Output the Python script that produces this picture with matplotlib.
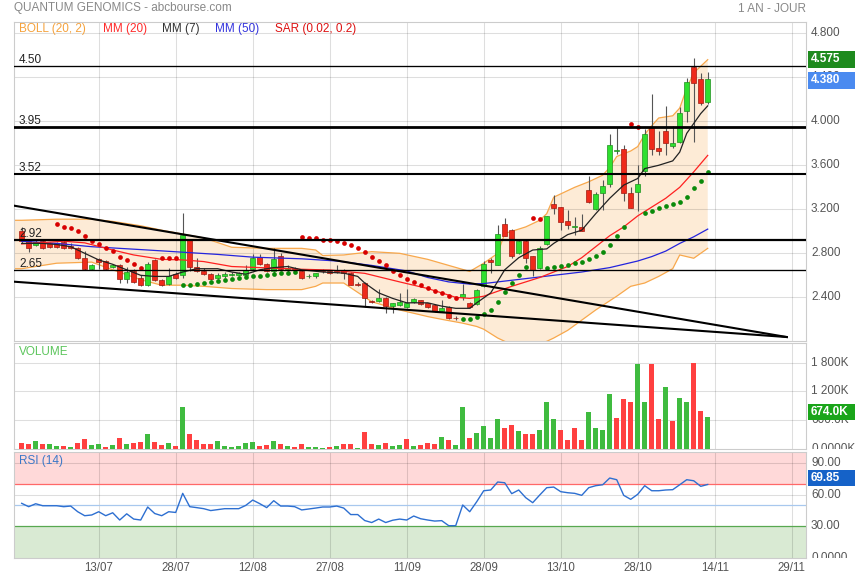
import numpy as np
import matplotlib
matplotlib.use('Agg')
import matplotlib.pyplot as plt
from matplotlib.transforms import blended_transform_factory, Bbox, TransformedBbox
from matplotlib.patches import Rectangle

plt.rcParams['font.family'] = ['Liberation Sans', 'DejaVu Sans']

nan = np.nan

# daily candles (one per trading day)
opens = [
    3.00, 2.91, 2.88, 2.91, 2.89, 2.89, 2.90, 2.87, 2.85, 2.76,
    2.66, 2.75, 2.73, 2.68, 2.69, 2.57, 2.64, 2.58, 2.51, 2.74,
    2.56, 2.52, 2.61, 2.60, 2.92, 2.68, 2.64, 2.61, 2.58, 2.59,
    2.60, 2.60, 2.60, 2.66, 2.77, 2.70, 2.64, 2.78, 2.66, 2.67,
    2.64, 2.59, 2.59, 2.645, 2.64, 2.64, 2.65, 2.62, 2.52, 2.53,
    2.37, 2.37, 2.39, 2.32, 2.33, 2.315, 2.36, 2.375, 2.345, 2.33,
    2.28, 2.31, 2.215, 2.405, 2.35, 2.34, 2.50, 2.735, 2.69, 3.065,
    3.01, 2.80, 2.915, 2.775, 2.664, 2.882, 3.25, 3.218, 3.094, 3.035,
    3.036, 3.376, 3.20, 3.345, 3.43, 3.73, 3.745, 3.345, 3.355, 3.55,
    3.952, 3.76, 3.912, 3.779, 3.809, 4.097, 4.497, 4.385, 4.179,
]
highs = [
    3.04, 2.92, 2.92, 2.93, 2.90, 2.90, 2.92, 2.89, 2.86, 2.82,
    2.70, 2.76, 2.74, 2.70, 2.70, 2.68, 2.66, 2.60, 2.72, 2.75,
    2.57, 2.67, 2.63, 3.17, 2.93, 2.76, 2.67, 2.62, 2.62, 2.63,
    2.63, 2.63, 2.69, 2.79, 2.79, 2.71, 2.85, 2.80, 2.69, 2.68,
    2.65, 2.61, 2.62, 2.66, 2.65, 2.69, 2.66, 2.63, 2.54, 2.54,
    2.38, 2.48, 2.40, 2.35, 2.44, 2.48, 2.39, 2.38, 2.35, 2.34,
    2.38, 2.32, 2.23, 2.52, 2.36, 2.48, 2.73, 2.76, 3.06, 3.12,
    3.02, 2.93, 2.92, 2.78, 2.87, 3.14, 3.33, 3.22, 3.19, 3.13,
    3.16, 3.50, 3.36, 3.47, 3.88, 3.95, 3.785, 3.40, 3.60, 3.93,
    4.245, 3.912, 4.139, 3.958, 4.133, 4.391, 4.575, 4.44, 4.45,
]
lows = [
    2.89, 2.81, 2.87, 2.84, 2.85, 2.85, 2.84, 2.84, 2.75, 2.65,
    2.65, 2.66, 2.65, 2.67, 2.53, 2.53, 2.53, 2.50, 2.50, 2.55,
    2.50, 2.51, 2.57, 2.58, 2.64, 2.63, 2.60, 2.56, 2.57, 2.58,
    2.59, 2.59, 2.59, 2.65, 2.69, 2.63, 2.62, 2.65, 2.63, 2.64,
    2.57, 2.58, 2.58, 2.62, 2.61, 2.62, 2.57, 2.51, 2.50, 2.31,
    2.35, 2.36, 2.26, 2.26, 2.32, 2.30, 2.35, 2.33, 2.30, 2.27,
    2.27, 2.20, 2.19, 2.38, 2.30, 2.33, 2.49, 2.62, 2.69, 2.96,
    2.76, 2.79, 2.71, 2.59, 2.66, 2.88, 3.16, 3.01, 3.02, 2.97,
    3.00, 3.26, 3.19, 3.19, 3.40, 3.70, 3.276, 3.21, 3.18, 3.50,
    3.69, 3.694, 3.694, 3.76, 3.80, 3.997, 3.815, 4.15, 4.16,
]
closes = [
    2.91, 2.85, 2.90, 2.85, 2.86, 2.86, 2.85, 2.85, 2.76, 2.66,
    2.69, 2.72, 2.66, 2.69, 2.57, 2.63, 2.54, 2.51, 2.70, 2.56,
    2.51, 2.59, 2.58, 2.97, 2.68, 2.64, 2.61, 2.57, 2.60, 2.61,
    2.61, 2.62, 2.65, 2.76, 2.70, 2.64, 2.75, 2.66, 2.665, 2.66,
    2.58, 2.595, 2.62, 2.635, 2.62, 2.63, 2.62, 2.51, 2.51, 2.39,
    2.355, 2.39, 2.32, 2.345, 2.355, 2.345, 2.385, 2.335, 2.315, 2.28,
    2.305, 2.21, 2.21, 2.43, 2.31, 2.466, 2.70, 2.725, 2.98, 2.96,
    2.78, 2.915, 2.755, 2.648, 2.845, 3.135, 3.21, 3.088, 3.058, 3.045,
    3.006, 3.27, 3.339, 3.412, 3.785, 3.735, 3.345, 3.215, 3.427, 3.882,
    3.748, 3.733, 3.806, 3.80, 4.073, 4.355, 4.345, 4.164, 4.38,
]

# volume in thousands, with the bar colour (g = up day, r = down day)
volumes = [
    132, 111, 160, 111, 97, 56, 69, 35, 118, 208,
    83, 104, 49, 76, 229, 104, 125, 139, 312, 146,
    90, 125, 56, 881, 305, 180, 111, 111, 160, 69,
    49, 56, 118, 153, 62, 76, 160, 104, 62, 35,
    111, 49, 49, 28, 35, 56, 97, 111, 21, 361,
    97, 83, 118, 56, 83, 208, 56, 76, 118, 111,
    250, 180, 76, 874, 236, 340, 472, 236, 632, 444,
    500, 368, 319, 319, 389, 979, 632, 403, 194, 444,
    194, 777, 444, 403, 1152, 645, 1041, 972, 1777, 985,
    1763, 632, 1284, 583, 1062, 972, 1784, 798, 674,
]
vol_dir = ('rrgrggrgrr' 'ggrgrgrrgr' 'rgrgrrrrgg' 'ggggrrgrgr'
           'rgggrgrrgr' 'rgrggrgrrr' 'grggrggggr' 'rgrrgggrrr'
           'rggggrrrgg' 'rrgrggrrg')

rsi = [
    51.9, 48.7, 51.5, 49.6, 49.6, 49.6, 48.7, 49.3, 43.9, 40.1,
    40.8, 43.9, 40.1, 42.9, 36.0, 41.9, 36.9, 36.0, 48.4, 42.2,
    40.1, 43.9, 43.2, 61.4, 48.7, 47.8, 46.8, 45.0, 45.9, 46.8,
    46.8, 46.8, 49.9, 55.0, 51.6, 47.8, 54.4, 49.3, 49.3, 48.7,
    45.6, 46.5, 47.4, 48.4, 48.4, 49.3, 47.4, 41.2, 41.2, 35.5,
    33.6, 36.9, 33.6, 35.8, 36.9, 36.0, 39.8, 37.2, 36.0, 35.0,
    35.4, 30.6, 30.6, 50.3, 43.9, 53.4, 63.9, 64.6, 72.2, 71.5,
    61.1, 64.6, 57.3, 52.5, 59.8, 66.8, 67.4, 63.0, 62.0, 61.4,
    59.5, 66.8, 68.7, 69.6, 76.0, 74.4, 59.5, 55.7, 60.5, 68.7,
    63.9, 63.9, 64.6, 64.9, 69.6, 74.4, 73.4, 68.1, 69.85,
]

# parabolic SAR (nan where no dot)
sar = ([nan] * 5
       + [3.063, 3.042, 3.027, 3.006, 2.957, 2.915, 2.881, 2.845, 2.821,
          2.769, 2.739, 2.70, 2.669]
       + [nan, nan]
       + [2.754, 2.754, 2.754]
       + [2.51, 2.51, 2.52, 2.527, 2.54, 2.548, 2.557, 2.566, 2.575, 2.587,
          2.592, 2.598, 2.604, 2.612, 2.618, 2.624, 2.633]
       + [2.948, 2.942, 2.936, 2.921, 2.92, 2.915, 2.896, 2.875, 2.851,
          2.815, 2.769, 2.73, 2.693, 2.642, 2.602, 2.563, 2.536, 2.512,
          2.487, 2.46, 2.44, 2.415, 2.39]
       + [2.20, 2.20, 2.22, 2.248, 2.287, 2.36, 2.452, 2.533, 2.603, 2.673]
       + [3.124, 3.112]
       + [2.664, 2.673, 2.685, 2.694, 2.709, 2.724, 2.745, 2.779, 2.815,
          2.876, 2.958, 3.042]
       + [3.976, 3.952]
       + [3.17, 3.188, 3.215, 3.23, 3.252, 3.27, 3.315, 3.391, 3.46, 3.542])

# Bollinger (20, 2)
boll_up_x = [-1, 0, 5, 10, 13, 17, 20, 23, 26, 30, 35, 40, 42, 43, 46, 50, 54,
             58, 61, 64, 66, 68, 69, 72, 74, 75, 76, 79, 81, 83, 84, 85, 87,
             88, 89, 90, 91, 93, 94, 95, 96, 97, 98]
boll_up_y = [3.10, 3.10, 3.11, 3.11, 3.09, 3.05, 3.01, 2.975, 2.94, 2.855,
             2.845, 2.845, 2.83, 2.78, 2.785, 2.815, 2.80, 2.745, 2.69, 2.635,
             2.71, 2.80, 2.98, 3.04, 3.10, 3.16, 3.31, 3.40, 3.45, 3.51,
             3.58, 3.68, 3.73, 3.77, 3.88, 3.96, 4.03, 4.05, 4.12, 4.30,
             4.44, 4.50, 4.56]
boll_lo_x = [-1, 0, 5, 10, 13, 17, 20, 23, 26, 30, 35, 40, 42, 43, 46, 50, 54,
             58, 60, 63, 65, 66, 68, 70, 72, 74, 76, 78, 82, 85, 87, 89, 91,
             93, 94, 96, 98]
boll_lo_y = [2.66, 2.66, 2.71, 2.72, 2.65, 2.56, 2.51, 2.51, 2.50, 2.48,
             2.47, 2.47, 2.50, 2.53, 2.53, 2.36, 2.285, 2.225, 2.20, 2.165,
             2.135, 2.11, 2.03, 1.97, 1.95, 1.97, 2.03, 2.10, 2.285, 2.41,
             2.50, 2.53, 2.59, 2.66, 2.785, 2.755, 2.845]

# moving averages
ma7_x = [0, 3, 5, 7, 9, 11, 13, 15, 17, 19, 21, 23, 25, 28, 30, 32, 34, 36,
         38, 40, 43, 46, 48, 49, 51, 53, 55, 58, 60, 62, 64, 65, 67, 69, 71,
         73, 75, 76, 78, 80, 82, 84, 86, 88, 89, 91, 93, 94, 95, 96, 97, 98]
ma7_y = [2.89, 2.89, 2.88, 2.86, 2.80, 2.74, 2.70, 2.65, 2.60, 2.59,
         2.59, 2.63, 2.66, 2.66, 2.63, 2.61, 2.65, 2.67, 2.68, 2.65,
         2.63, 2.62, 2.59, 2.53, 2.44, 2.39, 2.35, 2.35, 2.32, 2.30,
         2.30, 2.35, 2.44, 2.65, 2.76, 2.83, 2.84, 2.89, 2.97, 3.01,
         3.16, 3.30, 3.42, 3.48, 3.57, 3.60, 3.64, 3.72, 3.89, 3.98,
         4.07, 4.14]
ma20_x = [0, 6, 9, 13, 16, 20, 23, 26, 30, 40, 44, 49, 54, 58, 62, 64, 66,
          70, 74, 78, 80, 82, 84, 86, 88, 90, 92, 94, 96, 98]
ma20_y = [2.885, 2.91, 2.895, 2.83, 2.785, 2.745, 2.74, 2.725, 2.68, 2.655,
          2.648, 2.618, 2.54, 2.48, 2.40, 2.39, 2.41, 2.50, 2.58, 2.68,
          2.76, 2.86, 2.96, 3.04, 3.14, 3.22, 3.30, 3.40, 3.54, 3.69]
ma50_x = [0, 5, 10, 18, 23, 28, 33, 40, 45, 50, 55, 58, 61, 64, 66, 68, 72,
          76, 80, 84, 88, 90, 92, 94, 96, 98]
ma50_y = [2.91, 2.89, 2.86, 2.83, 2.81, 2.79, 2.765, 2.75, 2.73, 2.69,
          2.64, 2.58, 2.54, 2.52, 2.525, 2.54, 2.57, 2.60, 2.63, 2.67,
          2.73, 2.77, 2.82, 2.89, 2.95, 3.02]

# drawn support / resistance levels and the wedge
levels = [4.50, 3.95, 3.52, 2.92, 2.65]
level_lw = [0.95, 2.0, 1.5, 1.6, 0.95]
trend_x = [-1.1, 109.3]
trend_upper = [3.233, 2.039]
trend_lower = [2.542, 2.039]

date_idx = [11, 22, 33, 44, 55, 66, 77, 88, 99, 110]
date_labels = ['13/07', '28/07', '12/08', '27/08', '11/09',
               '28/09', '13/10', '28/10', '14/11', '29/11']
price_ticks = [2.4, 2.8, 3.2, 3.6, 4.0, 4.4, 4.8]
vol_ticks = [0, 600, 1200, 1800]
vol_tick_labels = ['0.0000K', '600.0K', '1 200K', '1 800K']
rsi_ticks = [0, 30, 60, 90]
rsi_tick_labels = ['0.0000', '30.00', '60.00', '90.00']

W, H = 855, 580
fig = plt.figure(figsize=(W / 100, H / 100), dpi=100)


def px_rect(left, top, right, bottom):
    return [left / W, 1 - bottom / H, (right - left) / W, (bottom - top) / H]


def fig_text(x, y, s, **kw):
    fig.text(x / W, 1 - y / H, s, va='center', fontsize=8.5, **kw)


ax = fig.add_axes(px_rect(14, 21.7, 806, 341))
axv = fig.add_axes(px_rect(14, 343.3, 806, 449))
axr = fig.add_axes(px_rect(14, 452, 806, 557.8))

grid_c = (0, 0, 0, 0.13)
for a in (ax, axv, axr):
    a.set_xlim(-1.1, 112.04)
    a.set_xticks([])
    a.set_yticks([])
    for s in a.spines.values():
        s.set_color('#cccccc')
        s.set_linewidth(0.8)
    for t in date_idx:
        a.axvline(t, color=grid_c, lw=0.75, zorder=1.5)

ax.set_ylim(2.003, 4.905)
axv.set_ylim(0, 2200)
axr.set_ylim(0, 100.8)


def right_labels(a, vals, texts):
    blend = blended_transform_factory(a.transAxes, a.transData)
    clip = TransformedBbox(Bbox([[0, 0], [1.2, 1]]), a.transAxes)
    for v, s in zip(vals, texts):
        t = a.text(1 + 5 / a.bbox.width, v, s, transform=blend, ha='left',
                   va='center', fontsize=8.5, color='#555555')
        t.set_clip_path(None)
        t.set_clip_box(clip)
        t.set_clip_on(True)


def value_box(a, value, text, color, dy_px=0, h_px=16):
    lo, hi = a.get_ylim()
    ppu = a.bbox.height / (hi - lo)
    yc = value + dy_px / ppu
    blend = blended_transform_factory(a.transAxes, a.transData)
    a.add_patch(Rectangle((1 + 2 / a.bbox.width, yc - h_px / 2 / ppu),
                          55 / a.bbox.width, h_px / ppu, transform=blend,
                          facecolor=color, edgecolor='none', clip_on=False,
                          zorder=10))
    a.text(1 + 5 / a.bbox.width, yc, text, transform=blend, ha='left',
           va='center', fontsize=8.5, fontweight='bold', color='white',
           clip_on=False, zorder=11)


# ---- price panel ----
idx = np.arange(len(closes))
o, h, l, c = (np.array(v) for v in (opens, highs, lows, closes))

for v in price_ticks:
    ax.axhline(v, color=grid_c, lw=0.75, zorder=1.5)

ax.fill(np.r_[boll_up_x, boll_lo_x[::-1]], np.r_[boll_up_y, boll_lo_y[::-1]],
        color='#fdebd6', lw=0, zorder=1)
ax.plot(boll_up_x, boll_up_y, color='#f8a84c', lw=0.9, zorder=2)
ax.plot(boll_lo_x, boll_lo_y, color='#f8a84c', lw=0.9, zorder=2)

up = c >= o
ax.vlines(idx, l, h, color='#555555', lw=0.8, zorder=3)
ax.bar(idx, np.maximum(np.abs(c - o), 0.006), bottom=np.minimum(o, c),
       width=0.66, color=np.where(up, '#2fe02f', '#ee2a1a'),
       edgecolor=np.where(up, '#1f8f1f', '#a01a10'), linewidth=0.5, zorder=3.5)

ax.plot(ma50_x, ma50_y, color='#2424dd', lw=0.9, zorder=4)
ax.plot(ma20_x, ma20_y, color='#ff2020', lw=0.9, zorder=4)
ax.plot(ma7_x, ma7_y, color='#222222', lw=0.9, zorder=4)

sar = np.array(sar)
has = ~np.isnan(sar)
above = has & (np.nan_to_num(sar) > c)
below = has & ~above
ax.plot(idx[above], sar[above], 'o', color='#d80000', ms=3.4, mec='none', zorder=4.5)
ax.plot(idx[below], sar[below], 'o', color='#0a8a0a', ms=3.4, mec='none', zorder=4.5)

blend_main = blended_transform_factory(ax.transAxes, ax.transData)
for v, w in zip(levels, level_lw):
    ax.axhline(v, color='black', lw=w, zorder=5)
    ax.text(5 / ax.bbox.width, v, f'{v:.2f}', transform=blend_main,
            ha='left', va='bottom', fontsize=8.5, color='#222222', zorder=6)
ax.plot(trend_x, trend_upper, color='black', lw=1.5, zorder=5)
ax.plot(trend_x, trend_lower, color='black', lw=1.5, zorder=5)

right_labels(ax, price_ticks, [f'{v:.3f}' for v in price_ticks])
value_box(ax, highs[-3], f'{highs[-3]:.3f}', '#1e8a1e', dy_px=-1, h_px=17)
value_box(ax, closes[-1], f'{closes[-1]:.3f}', '#4a8af0', dy_px=-1, h_px=17)

# ---- volume panel ----
for v in vol_ticks[1:]:
    axv.axhline(v, color=grid_c, lw=0.75, zorder=1.5)
vcol = ['#3fbb3f' if d == 'g' else '#ff4040' for d in vol_dir]
axv.bar(idx, volumes, width=0.7, color=vcol, zorder=3)
right_labels(axv, vol_ticks, vol_tick_labels)
value_box(axv, volumes[-1], f'{volumes[-1]:.1f}K', '#1aa51a', dy_px=5, h_px=16)

# ---- RSI panel ----
axr.axhspan(70, 100.8, color='#ffd9d9', lw=0, zorder=0.5)
axr.axhspan(0, 30, color='#d9ead3', lw=0, zorder=0.5)
for v in (60, 90):
    axr.axhline(v, color=grid_c, lw=0.75, zorder=1.5)
axr.axhline(70, color='#ff6868', lw=0.9, zorder=2)
axr.axhline(30, color='#58a850', lw=0.9, zorder=2)
axr.axhline(50, color='#a8c8ee', lw=0.9, zorder=2)
axr.plot(idx, rsi, color='#2d6fd1', lw=1.0, zorder=3)
right_labels(axr, rsi_ticks, rsi_tick_labels)
value_box(axr, rsi[-1], f'{rsi[-1]:.2f}', '#1562c8', dy_px=6, h_px=16)

axr.set_xticks(date_idx)
axr.set_xticklabels(date_labels)
axr.tick_params(axis='x', length=0, pad=3, labelsize=8.3, labelcolor='#555555')

# ---- titles and legend ----
fig_text(14, 8.5, 'QUANTUM GENOMICS - abcbourse.com', color='#888888')
fig.text(806 / W, 1 - 8.5 / H, '1 AN - JOUR', ha='right', va='center',
         fontsize=8.5, color='#888888')
legend = [(19, 'BOLL (20, 2)', '#f5a23c'), (103, 'MM (20)', '#ff2a2a'),
          (162, 'MM (7)', '#333333'), (215, 'MM (50)', '#3434dd'),
          (275, 'SAR (0.02, 0.2)', '#dd1111')]
for x, s, col in legend:
    fig_text(x, 28.7, s, color=col)
fig_text(19, 351.7, 'VOLUME', color='#5cc55c')
fig_text(19, 461.3, 'RSI (14)', color='#3b78c8')

fig.savefig('out.png', dpi=100)
